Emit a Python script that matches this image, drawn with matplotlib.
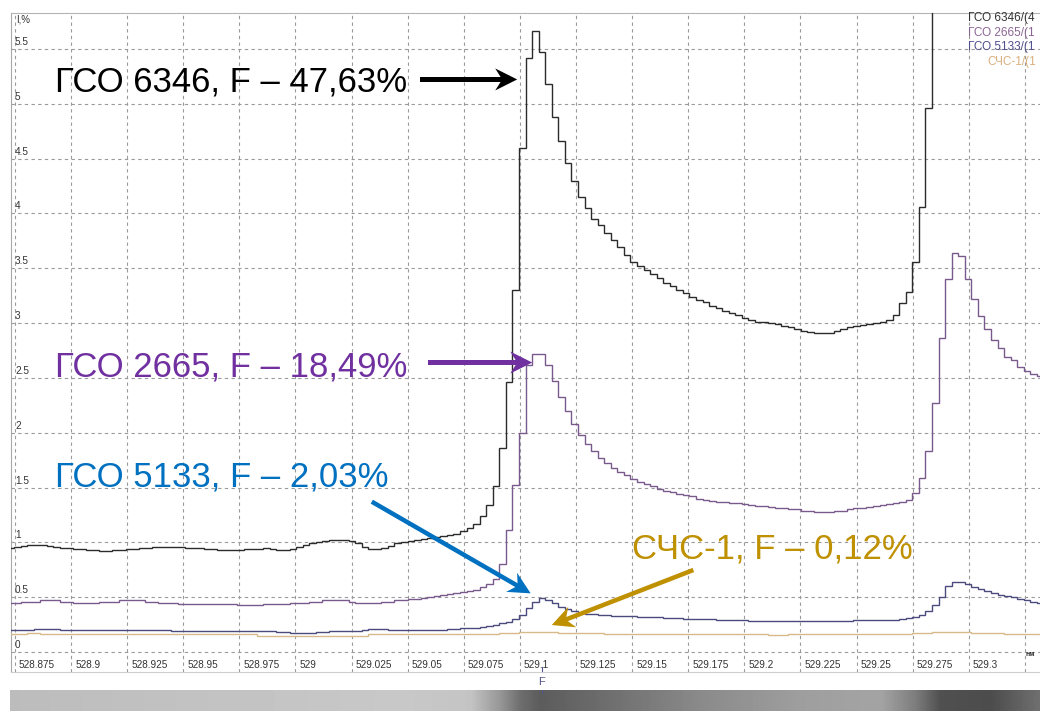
import numpy as np
import matplotlib
matplotlib.use('Agg')
import matplotlib.pyplot as plt
from matplotlib.patches import Polygon

plt.rcParams['font.family'] = ['Liberation Sans', 'DejaVu Sans']

# ---------------- data ----------------
wl_start = 528.8717      # nm, first sample edge
wl_step = 0.0029216      # nm, spectrometer sampling step

gso6346 = [0.95, 0.96, 0.97, 0.98, 0.98, 0.98, 0.97, 0.96, 0.95, 0.95,
           0.94, 0.94, 0.93, 0.93, 0.92, 0.92, 0.93, 0.93, 0.94, 0.94,
           0.95, 0.95, 0.96, 0.96, 0.96, 0.96, 0.96, 0.95, 0.95, 0.95,
           0.94, 0.94, 0.93, 0.93, 0.93, 0.93, 0.94, 0.94, 0.94, 0.95,
           0.94, 0.93, 0.93, 0.94, 0.96, 0.98, 0.99, 1.00, 1.01, 1.02,
           1.02, 1.02, 1.01, 0.99, 0.96, 0.94, 0.94, 0.95, 0.97, 0.99,
           1.00, 1.01, 1.02, 1.03, 1.04, 1.05, 1.06, 1.07, 1.08, 1.10,
           1.13, 1.17, 1.24, 1.34, 1.51, 1.86, 2.46, 3.30, 4.60, 5.42,
           5.66, 5.47, 5.18, 4.88, 4.66, 4.46, 4.30, 4.15, 4.05, 3.95,
           3.89, 3.82, 3.76, 3.69, 3.62, 3.56, 3.52, 3.48, 3.45, 3.41,
           3.37, 3.34, 3.30, 3.27, 3.24, 3.21, 3.19, 3.16, 3.14, 3.11,
           3.09, 3.07, 3.05, 3.03, 3.01, 3.01, 3.00, 2.99, 2.97, 2.96,
           2.95, 2.93, 2.92, 2.91, 2.91, 2.91, 2.93, 2.95, 2.96, 2.97,
           2.98, 2.99, 3.00, 3.01, 3.03, 3.07, 3.18, 3.28, 3.56, 4.06,
           4.96, 6.50, 7.50, 8.20, 8.60, 8.70, 8.50, 8.20, 7.90, 7.60,
           7.30, 7.00, 6.80, 6.60, 6.40, 6.20, 6.10, 6.00]

gso2665 = [0.45, 0.45, 0.46, 0.46, 0.46, 0.47, 0.47, 0.47, 0.46, 0.46,
           0.45, 0.45, 0.45, 0.45, 0.46, 0.46, 0.46, 0.47, 0.47, 0.47,
           0.47, 0.46, 0.46, 0.45, 0.45, 0.45, 0.44, 0.44, 0.44, 0.44,
           0.44, 0.44, 0.44, 0.44, 0.44, 0.43, 0.43, 0.43, 0.43, 0.44,
           0.44, 0.44, 0.44, 0.45, 0.45, 0.45, 0.46, 0.46, 0.47, 0.47,
           0.47, 0.47, 0.46, 0.45, 0.45, 0.45, 0.45, 0.46, 0.46, 0.47,
           0.47, 0.48, 0.48, 0.49, 0.50, 0.51, 0.52, 0.53, 0.54, 0.55,
           0.56, 0.57, 0.59, 0.62, 0.67, 0.80, 1.11, 1.52, 2.00, 2.62,
           2.72, 2.72, 2.62, 2.47, 2.33, 2.20, 2.08, 1.98, 1.90, 1.83,
           1.77, 1.72, 1.68, 1.64, 1.61, 1.58, 1.55, 1.53, 1.51, 1.49,
           1.47, 1.46, 1.44, 1.43, 1.42, 1.40, 1.39, 1.38, 1.37, 1.37,
           1.36, 1.36, 1.35, 1.34, 1.33, 1.33, 1.32, 1.31, 1.31, 1.30,
           1.30, 1.29, 1.29, 1.28, 1.28, 1.28, 1.29, 1.29, 1.30, 1.31,
           1.31, 1.32, 1.33, 1.34, 1.35, 1.36, 1.37, 1.39, 1.45, 1.59,
           1.83, 2.27, 2.86, 3.40, 3.64, 3.61, 3.40, 3.22, 3.06, 2.95,
           2.85, 2.77, 2.69, 2.66, 2.60, 2.56, 2.54, 2.52]

gso5133 = [0.20, 0.20, 0.20, 0.20, 0.21, 0.21, 0.21, 0.21, 0.20, 0.20,
           0.20, 0.20, 0.20, 0.20, 0.20, 0.20, 0.20, 0.20, 0.20, 0.20,
           0.20, 0.20, 0.20, 0.20, 0.20, 0.19, 0.19, 0.19, 0.19, 0.19,
           0.19, 0.19, 0.19, 0.19, 0.19, 0.19, 0.19, 0.19, 0.19, 0.19,
           0.19, 0.18, 0.18, 0.17, 0.17, 0.17, 0.17, 0.18, 0.18, 0.19,
           0.19, 0.19, 0.19, 0.19, 0.20, 0.21, 0.21, 0.21, 0.20, 0.20,
           0.20, 0.20, 0.20, 0.20, 0.20, 0.20, 0.20, 0.21, 0.21, 0.22,
           0.22, 0.22, 0.23, 0.24, 0.25, 0.26, 0.27, 0.30, 0.34, 0.40,
           0.46, 0.49, 0.47, 0.45, 0.41, 0.39, 0.37, 0.36, 0.35, 0.35,
           0.34, 0.34, 0.33, 0.33, 0.33, 0.33, 0.32, 0.32, 0.32, 0.32,
           0.31, 0.31, 0.31, 0.30, 0.30, 0.30, 0.30, 0.30, 0.29, 0.29,
           0.29, 0.29, 0.29, 0.28, 0.28, 0.28, 0.28, 0.28, 0.28, 0.28,
           0.28, 0.28, 0.28, 0.28, 0.28, 0.28, 0.28, 0.28, 0.28, 0.29,
           0.29, 0.29, 0.29, 0.29, 0.29, 0.29, 0.30, 0.31, 0.32, 0.34,
           0.37, 0.43, 0.50, 0.60, 0.64, 0.64, 0.62, 0.59, 0.575, 0.56,
           0.54, 0.52, 0.51, 0.50, 0.48, 0.47, 0.46, 0.45]

shs1 = [0.16, 0.16, 0.16, 0.17, 0.17, 0.16, 0.16, 0.16, 0.16, 0.16,
        0.16, 0.16, 0.16, 0.16, 0.16, 0.16, 0.16, 0.16, 0.16, 0.16,
        0.16, 0.16, 0.16, 0.16, 0.16, 0.16, 0.16, 0.16, 0.16, 0.16,
        0.16, 0.16, 0.16, 0.16, 0.16, 0.16, 0.16, 0.16, 0.15, 0.15,
        0.15, 0.15, 0.15, 0.15, 0.15, 0.15, 0.15, 0.15, 0.15, 0.15,
        0.15, 0.15, 0.15, 0.15, 0.15, 0.16, 0.16, 0.16, 0.16, 0.16,
        0.16, 0.16, 0.16, 0.16, 0.16, 0.16, 0.16, 0.16, 0.16, 0.16,
        0.16, 0.16, 0.16, 0.16, 0.16, 0.17, 0.17, 0.17, 0.18, 0.18,
        0.18, 0.18, 0.18, 0.18, 0.17, 0.17, 0.17, 0.17, 0.17, 0.17,
        0.17, 0.16, 0.16, 0.16, 0.16, 0.16, 0.16, 0.16, 0.16, 0.16,
        0.16, 0.16, 0.16, 0.16, 0.16, 0.16, 0.16, 0.16, 0.16, 0.16,
        0.16, 0.16, 0.16, 0.16, 0.16, 0.16, 0.155, 0.155, 0.155, 0.16,
        0.16, 0.16, 0.16, 0.16, 0.16, 0.16, 0.16, 0.16, 0.16, 0.16,
        0.16, 0.16, 0.16, 0.16, 0.16, 0.16, 0.16, 0.16, 0.17, 0.17,
        0.17, 0.18, 0.18, 0.18, 0.18, 0.18, 0.18, 0.17, 0.17, 0.17,
        0.17, 0.17, 0.16, 0.16, 0.16, 0.16, 0.16, 0.16]

x_ticks = [528.875, 528.9, 528.925, 528.95, 528.975, 529.0, 529.025, 529.05,
           529.075, 529.1, 529.125, 529.15, 529.175, 529.2, 529.225, 529.25,
           529.275, 529.3, 529.325]
x_tick_labels = ['528.875', '528.9', '528.925', '528.95', '528.975', '529',
                 '529.025', '529.05', '529.075', '529.1', '529.125', '529.15',
                 '529.175', '529.2', '529.225', '529.25', '529.275', '529.3', '']
y_ticks = [0, 0.5, 1, 1.5, 2, 2.5, 3, 3.5, 4, 4.5, 5, 5.5]
y_tick_labels = ['0', '0.5', '1', '1.5', '2', '2.5', '3', '3.5', '4', '4.5', '5', '5.5']

legend_labels = ['ГСО 6346/(4', 'ГСО 2665/(1', 'ГСО 5133/(1', 'СЧС-1/(1']
callouts = ['ГСО 6346, F – 47,63%', 'ГСО 2665, F – 18,49%',
            'ГСО 5133, F – 2,03%', 'СЧС-1, F – 0,12%']
f_line = 529.1098

# ---------------- styles ----------------
line_colors = ['#2b2b2b', '#7a5a8c', '#4a4a7c', '#d8b98c']
legend_colors = ['#333333', '#8a6494', '#4e4e8e', '#d9ae7c']
callout_colors = ['#000000', '#7030a0', '#0070c0', '#bf9000']

W, H = 1040, 711
fig = plt.figure(figsize=(W / 100, H / 100), dpi=100)
fig.patch.set_facecolor('white')

ax = fig.add_axes([11 / W, 39 / H, 1029 / W, 659 / H])
ax.set_xlim(528.87322, 529.33177)
ax.set_ylim(-0.1824, 5.828)

edges = wl_start + wl_step * np.arange(len(gso6346) + 1)
for vals, col in zip([shs1, gso5133, gso2665, gso6346],
                     [line_colors[3], line_colors[2], line_colors[1], line_colors[0]]):
    ax.stairs(vals, edges, baseline=None, color=col, lw=1.0, zorder=3)

ax.set_xticks(x_ticks)
ax.set_yticks(y_ticks)
ax.tick_params(length=0, labelbottom=False, labelleft=False)
ax.grid(True, color='#9a9a9a', lw=0.8, linestyle=(0, (3, 3)), zorder=1)
ax.spines['right'].set_visible(False)
ax.spines['left'].set_color('#a8a8a8')
ax.spines['top'].set_color('#b4b4b4')
ax.spines['bottom'].set_color('#cfcfcf')
for s in ['left', 'top', 'bottom']:
    ax.spines[s].set_linewidth(0.8)

for t, lab in zip(x_ticks, x_tick_labels):
    ax.annotate(lab, xy=(t, -0.118), xycoords='data', xytext=(4, 0),
                textcoords='offset pixels', ha='left', va='center',
                fontsize=7.2, color='#333333', annotation_clip=False)
for v, lab in zip(y_ticks, y_tick_labels):
    ax.annotate(lab, xy=(0, v), xycoords=('axes fraction', 'data'), xytext=(4, 2),
                textcoords='offset pixels', ha='left', va='bottom',
                fontsize=7.2, color='#333333')

fig.text(16 / W, 1 - 20 / H, 'I,%', fontsize=7, color='#333333', va='center')
fig.text(1026 / W, 1 - 654 / H, 'нм', fontsize=5, color='#333333', va='center',
         fontweight='bold')

# legend (cut by the screen edge)
leg_y = [18, 33, 47, 62]
leg_x = [968, 968, 968, 987]
for lab, col, yy, xx in zip(legend_labels, legend_colors, leg_y, leg_x):
    fig.text(xx / W, 1 - yy / H, lab, fontsize=8.5, color=col, va='center')

# F marker
ax.plot([f_line, f_line], [-0.135, -0.1824], color='#55558f', lw=0.8, clip_on=False)
ax.annotate('F', xy=(f_line, 0), xycoords=('data', 'axes fraction'), xytext=(0, -10),
            textcoords='offset pixels', ha='center', va='center', fontsize=8,
            color='#55558f', annotation_clip=False)
ax.annotate('', xy=(f_line, 0), xycoords=('data', 'axes fraction'),
            xytext=(f_line, 0), textcoords=('data', 'axes fraction'))
fig.add_artist(plt.Line2D([0, 0], [0, 0]))


def stealth_arrow(start, end, color, shaft=4.5, head_len=22, head_half=11, notch=7):
    p0 = ax.transData.transform(start)
    p1 = ax.transData.transform(end)
    d = p1 - p0
    u = d / np.hypot(*d)
    n = np.array([-u[1], u[0]])
    head = [p1, p1 - head_len * u + head_half * n, p1 - (head_len - notch) * u,
            p1 - head_len * u - head_half * n]
    back = p1 - (head_len - notch - 1) * u
    sh = [p0 + n * shaft / 2, back + n * shaft / 2, back - n * shaft / 2, p0 - n * shaft / 2]
    inv = ax.transData.inverted()
    for pts in (head, sh):
        ax.add_patch(Polygon(inv.transform(np.array(pts)), closed=True, facecolor=color,
                             edgecolor='none', clip_on=False, zorder=5))


# callouts
text_pos = [(528.8928, 5.108), (528.8928, 2.517), (528.8928, 1.505), (529.1500, 0.857)]
arrows = [((529.0555, 5.222), (529.0988, 5.222)),
          ((529.0590, 2.640), (529.1055, 2.640)),
          ((529.0340, 1.371), (529.1048, 0.535)),
          ((529.1773, 0.748), (529.1142, 0.246))]
for txt, col, pos, (a0, a1) in zip(callouts, callout_colors, text_pos, arrows):
    ax.text(pos[0], pos[1], txt, fontsize=25, color=col, ha='left', va='baseline', zorder=6)
    stealth_arrow(a0, a1, col)

# bottom grey bar of the screenshot
bar = fig.add_axes([10 / W, 0, 1030 / W, 21 / H])
stops_x = [0, 190, 390, 460, 490, 510, 530, 590, 690, 790, 870, 905, 930, 980, 1030]
stops_g = [188, 194, 200, 196, 150, 110, 92, 108, 138, 158, 164, 125, 80, 76, 112]
g = np.interp(np.arange(1030), stops_x, stops_g) / 255.0
bar.imshow(np.tile(g, (21, 1)), cmap='gray', vmin=0, vmax=1, aspect='auto')
bar.axis('off')
# small marker tick of the F line continuing into the bar
fx = ax.transData.transform((f_line, 0))[0]
bar.plot([fx - 10, fx - 10], [-0.5, 2.5], color='#55558f', lw=0.8)
bar.set_xlim(-0.5, 1029.5)
bar.set_ylim(20.5, -0.5)

fig.savefig('out.png', dpi=100, facecolor='white')
